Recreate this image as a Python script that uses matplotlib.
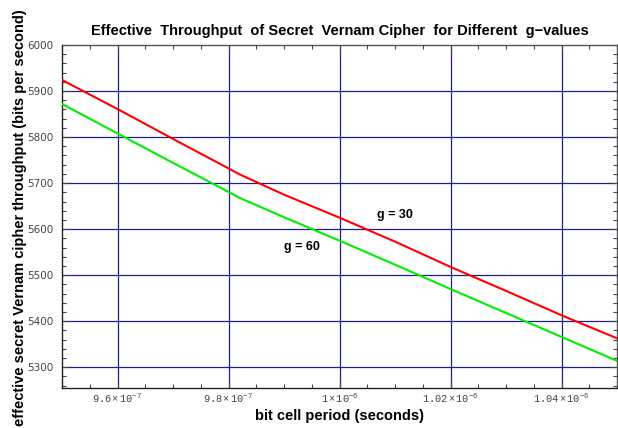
import numpy as np
import matplotlib as mpl
import matplotlib.pyplot as plt
from matplotlib.ticker import FixedLocator, MultipleLocator, FuncFormatter

mpl.rcParams['font.family'] = ['Liberation Sans', 'DejaVu Sans']
mpl.rcParams['mathtext.fontset'] = 'custom'
mpl.rcParams['mathtext.rm'] = 'Liberation Mono'
mpl.rcParams['mathtext.it'] = 'Liberation Mono'

# bit cell period (seconds)
period = [9.5e-7, 9.6e-7, 9.7e-7, 9.8e-7, 9.82e-7, 9.9e-7,
          1.0e-6, 1.01e-6, 1.02e-6, 1.03e-6, 1.04e-6, 1.05e-6]
# effective throughput (bits per second)
thr_g30 = [5924, 5861, 5796, 5732, 5719, 5675,
           5625, 5573, 5518, 5466, 5413, 5363]
thr_g60 = [5872, 5808, 5744, 5681, 5668, 5626,
           5575, 5523, 5470, 5418, 5366, 5314]

x_ticks = [9.6e-7, 9.8e-7, 1.0e-6, 1.02e-6, 1.04e-6]
x_tick_labels = ['9.6', '9.8', '1', '1.02', '1.04']
x_tick_exp = ['-7', '-7', '-6', '-6', '-6']
y_ticks = [5300, 5400, 5500, 5600, 5700, 5800, 5900, 6000]

fig = plt.figure(figsize=(6.18, 4.28), dpi=100)
ax = fig.add_axes([62 / 618, 1 - 388 / 428, 555 / 618, 343 / 428])

grid_color = '#1f1f8a'
for xv in x_ticks:
    ax.axvline(xv, color=grid_color, lw=0.9, zorder=1)
for yv in y_ticks[:-1]:
    ax.axhline(yv, color=grid_color, lw=0.9, zorder=1)

ax.plot(period, thr_g30, color='#ff0000', lw=1.5, zorder=3)
ax.plot(period, thr_g60, color='#00ee00', lw=1.5, zorder=3)

ax.text(1.0099e-6, 5631, 'g = 30', fontsize=9, fontweight='bold',
        ha='center', va='center')
ax.text(9.932e-7, 5562, 'g = 60', fontsize=9, fontweight='bold',
        ha='center', va='center')

ax.set_xlim(9.5e-7, 1.05e-6)
ax.set_ylim(5255, 6000)

ax.xaxis.set_major_locator(FixedLocator(x_ticks))
ax.xaxis.set_minor_locator(MultipleLocator(5e-9))
ax.xaxis.set_major_formatter(FuncFormatter(
    lambda v, p: r'$%s\times10^{%s}$' % (x_tick_labels[p], x_tick_exp[p])
    if p is not None and p < len(x_tick_labels) else ''))
ax.yaxis.set_major_locator(FixedLocator(y_ticks))
ax.yaxis.set_minor_locator(MultipleLocator(20))

ax.tick_params(which='both', direction='in', top=True, right=True,
               color='#444444', width=0.8)
ax.tick_params(which='major', length=5)
ax.tick_params(which='minor', length=3)
ax.tick_params(axis='x', labelsize=7.5, labelcolor='#444444', pad=3)
ax.tick_params(axis='y', labelsize=7.5, labelcolor='#444444', pad=6)
for lbl in ax.get_yticklabels():
    lbl.set_family(['DejaVu Sans'])

for sp in ax.spines.values():
    sp.set_color('#555555')
    sp.set_linewidth(1.0)
ax.spines['bottom'].set_color('#222222')
ax.spines['left'].set_color('#222222')

ax.set_title('Effective  Throughput  of Secret  Vernam Cipher  for Different  g\u2212values',
             fontsize=10.5, fontweight='bold', pad=7)
ax.set_xlabel('bit cell period (seconds)', fontsize=10.5, fontweight='bold')
ax.xaxis.set_label_coords(0.5, -0.061)
ax.set_ylabel('effective secret Vernam cipher throughput (bits per second)',
              fontsize=10.5, fontweight='bold')
ax.yaxis.set_label_coords(-0.063, 0.496)

fig.savefig('out.png', dpi=100)
